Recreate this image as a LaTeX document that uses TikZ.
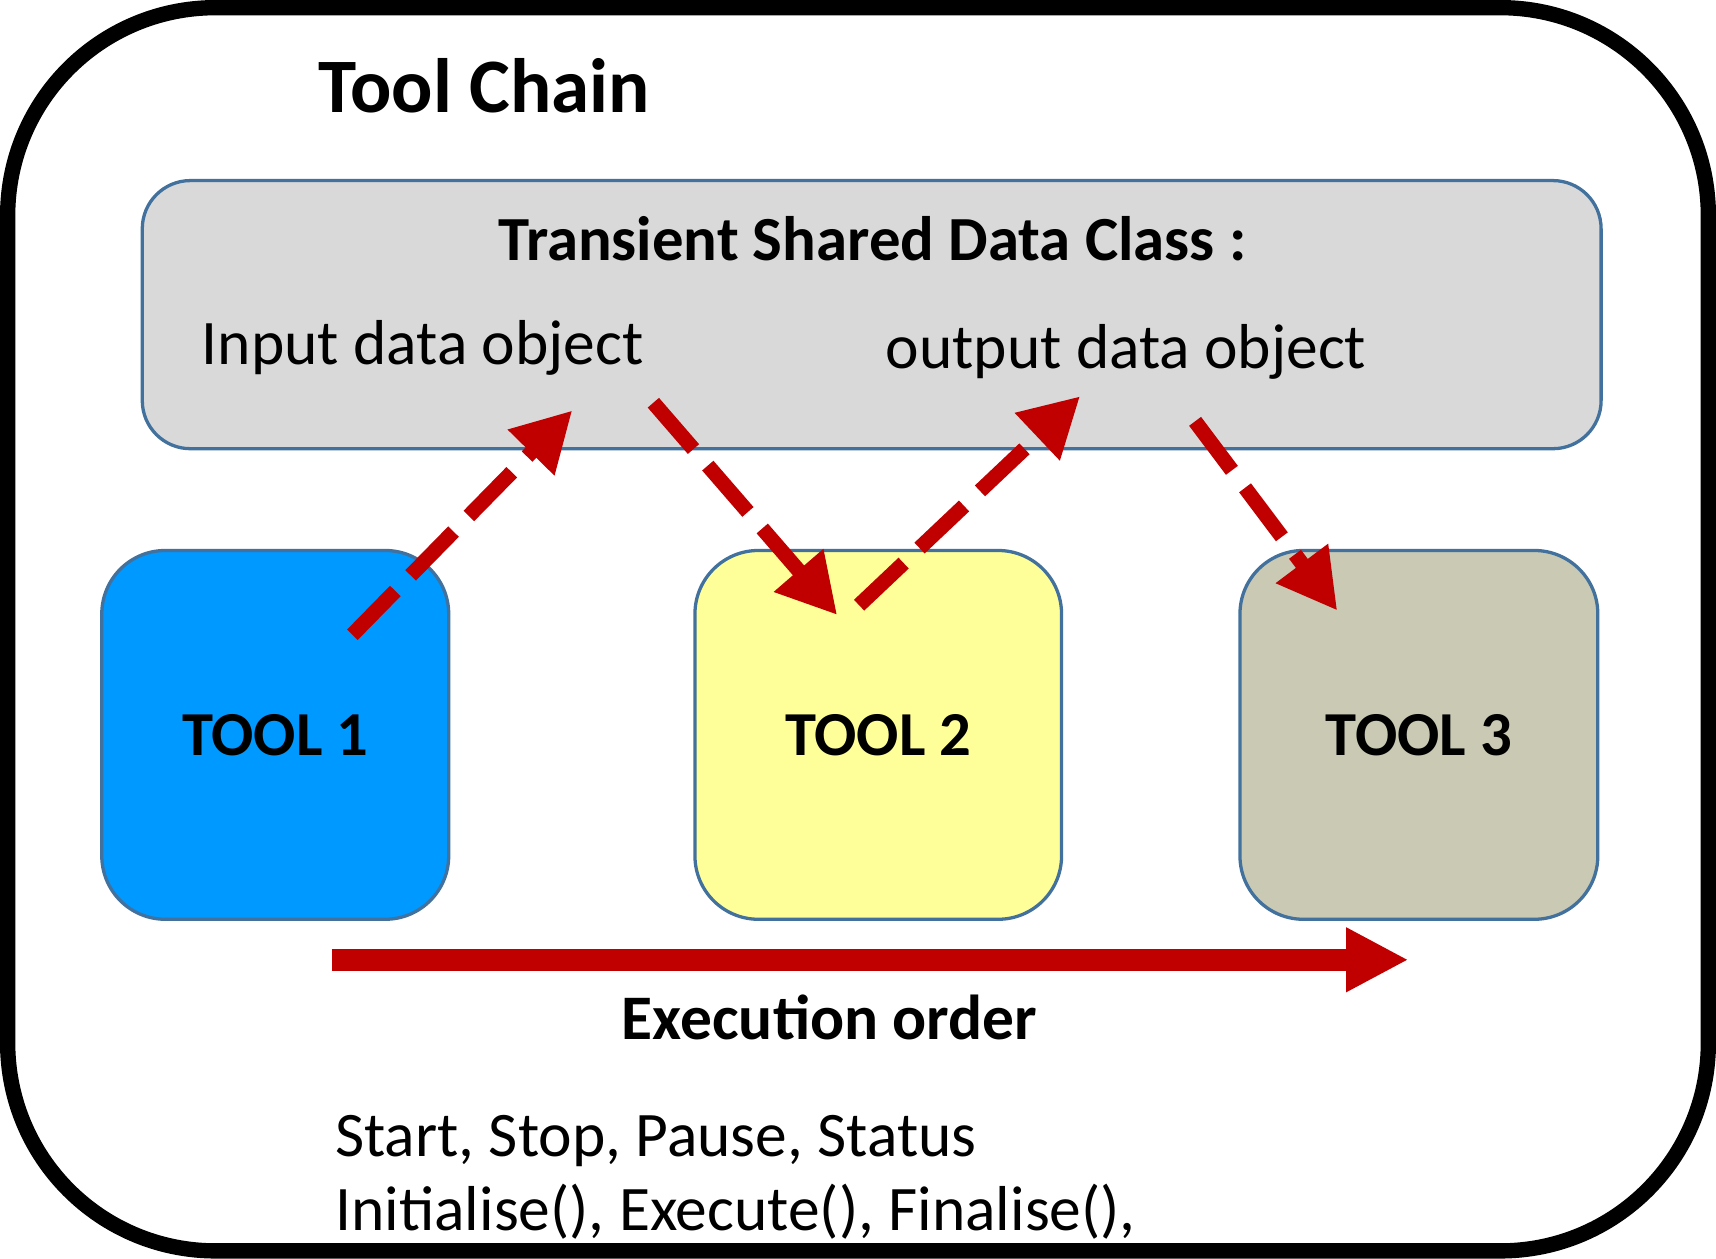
\documentclass[tikz,border=0pt]{standalone}
\usepackage{fontspec}
\setmainfont{Carlito}
\usetikzlibrary{arrows.meta}
\definecolor{dred}{RGB}{192,0,0}
\definecolor{bord}{RGB}{65,113,156}
\definecolor{boxgray}{RGB}{217,217,217}
\definecolor{toolone}{RGB}{0,153,255}
\definecolor{tooltwo}{RGB}{255,255,153}
\definecolor{toolthree}{RGB}{201,201,180}
\tikzset{
  toolbox/.style={draw=bord, line width=1.5pt, rounded corners=29pt, minimum height=168.5pt, inner sep=0pt,
    font=\fontsize{28.6pt}{34pt}\selectfont\bfseries},
  plaintext/.style={inner sep=0pt, font=\fontsize{29pt}{34pt}\selectfont},
  boldtext/.style={inner sep=0pt, font=\fontsize{29pt}{34pt}\selectfont\bfseries},
  flowarrow/.style={draw=dred, line width=6.8pt, dash pattern=on 28pt off 10pt,
    -{Triangle[length=27pt,width=28pt]}},
  mainarrow/.style={draw=dred, line width=10pt, -{Triangle[length=28.5pt,width=27.5pt]}}
}
\begin{document}
\begin{tikzpicture}[x=0.5pt,y=-0.5pt]
\useasboundingbox (0,0) rectangle (1568,1150);
% outer frame
\node[draw=black, line width=7pt, rounded corners=95pt, minimum width=777pt, minimum height=568pt, inner sep=0pt] (frame) at (784,575) {};
\node[inner sep=0pt, anchor=base west, font=\fontsize{35.2pt}{42pt}\selectfont\bfseries] (title) at (291,103) {Tool Chain};
% shared data class
\node[draw=bord, fill=boxgray, line width=1.5pt, rounded corners=22pt, minimum width=666.5pt, minimum height=122.5pt, inner sep=0pt] (shared) at (796.5,287.5) {};
\node[boldtext, anchor=base, font=\fontsize{28.7pt}{35pt}\selectfont\bfseries] (sharedtitle) at (797,238) {Transient Shared Data Class :};
\node[plaintext, anchor=base west] (input) at (184,333) {Input data object};
\node[plaintext, anchor=base west] (output) at (809,337) {output data object};
% tools
\node[toolbox, fill=toolone, minimum width=158.5pt] (tool1) at (251.5,671.5) {TOOL 1};
\node[toolbox, fill=tooltwo, minimum width=167.5pt] (tool2) at (802.5,671.5) {TOOL 2};
\node[toolbox, fill=toolthree, minimum width=163.5pt] (tool3) at (1296.5,671.5) {TOOL 3};
% arrow end points
\coordinate (a1s) at (322,580);
\coordinate (a1e) at (523,375);
\coordinate (a2s) at (597,368);
\coordinate (a2e) at (765,562);
\coordinate (a3s) at (785,553);
\coordinate (a3e) at (987,362);
\coordinate (a4s) at (1092,385);
\coordinate (a4e) at (1222,558);
\draw[flowarrow] (a1s) -- (a1e);
\draw[flowarrow] (a2s) -- (a2e);
\draw[flowarrow] (a3s) -- (a3e);
\draw[flowarrow] (a4s) -- (a4e);
% execution order
\coordinate (ms) at (303,877);
\coordinate (me) at (1287,877);
\draw[mainarrow] (ms) -- (me);
\node[boldtext, anchor=base] (exec) at (758,950) {Execution order};
\node[plaintext, anchor=base west] (line1) at (306,1057) {Start, Stop, Pause, Status};
\node[plaintext, anchor=base west] (line2) at (306,1124) {Initialise(), Execute(), Finalise(),};
\end{tikzpicture}
\end{document}
